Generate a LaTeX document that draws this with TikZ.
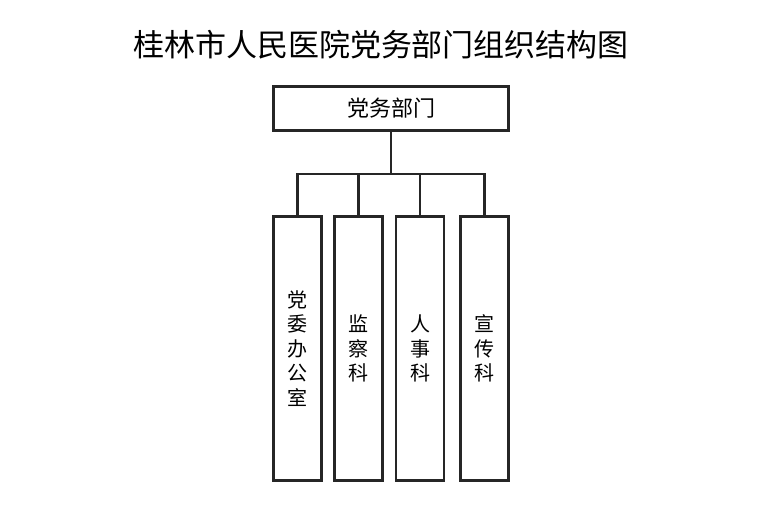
\documentclass[tikz,border=0pt]{standalone}
\usepackage{fontspec}
\setmainfont{Noto Sans CJK SC}
\begin{document}
\begin{tikzpicture}[x=1pt,y=-1pt,line width=2.6pt,
    dept/.style={draw=black!85, minimum width=48pt, minimum height=264pt,
                 inner sep=0pt, align=center, font=\fontsize{20}{24.5}\selectfont}]
    \useasboundingbox (0,0) rectangle (780,514);
    \node[font=\fontsize{31}{31}\selectfont] (title) at (381,45) {桂林市人民医院党务部门组织结构图};
    \node[draw=black!85, minimum width=235pt, minimum height=44pt,
          font=\fontsize{22}{22}\selectfont] (party) at (391,108.5) {党务部门};
    \node[dept] (office) at (297.5,348.5) {党\\委\\办\\公\\室};
    \node[dept] (audit) at (358.5,348.5) {监\\察\\科};
    \node[dept] (staff) at (420,348.5) {人\\事\\科};
    \node[dept] (promo) at (484.5,348.5) {宣\\传\\科};
    \coordinate (bus) at (391,174);
    \draw[black!85] (party.south) -- (bus);
    \draw[black!85] (office.north) |- (bus) -| (promo.north);
    \draw[black!85] (audit.north) -- (audit.north |- bus);
    \draw[black!85] (staff.north) -- (staff.north |- bus);
\end{tikzpicture}
\end{document}
